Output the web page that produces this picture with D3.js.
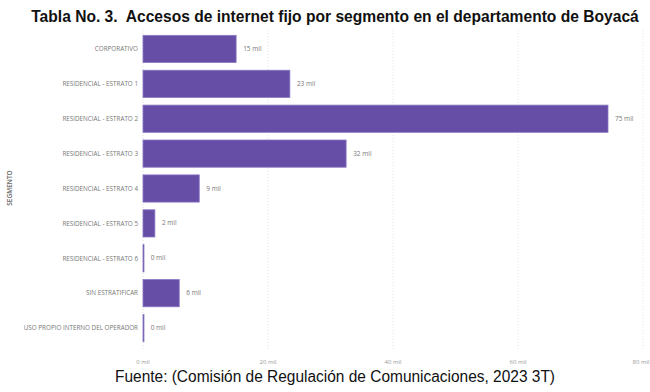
<!DOCTYPE html>
<html><head><meta charset="utf-8">
<script src="https://cdn.jsdelivr.net/npm/d3@7"></script>
<style>body{margin:0;background:#fff}svg{display:block}</style>
</head><body>
<script>
const categories = ["CORPORATIVO","RESIDENCIAL - ESTRATO 1","RESIDENCIAL - ESTRATO 2","RESIDENCIAL - ESTRATO 3","RESIDENCIAL - ESTRATO 4","RESIDENCIAL - ESTRATO 5","RESIDENCIAL - ESTRATO 6","SIN ESTRATIFICAR","USO PROPIO INTERNO DEL OPERADOR"];
const values = [14.9, 23.5, 74.4, 32.5, 9.0, 1.9, 0.1, 5.8, 0.1];
const valueLabels = ["15 mil","23 mil","75 mil","32 mil","9 mil","2 mil","0 mil","6 mil","0 mil"];
const xTicks = [0, 20, 40, 60, 80];
const titleText = "Tabla No. 3.  Accesos de internet fijo por segmento en el departamento de Boyacá";
const sourceText = "Fuente: (Comisión de Regulación de Comunicaciones, 2023 3T)";
const yAxisTitle = "SEGMENTO";

const W = 650, H = 392;
const svg = d3.select("body").append("svg").attr("width", W).attr("height", H);
const x = d3.scaleLinear().domain([0, 80]).range([143, 643]);
const y = d3.scaleBand().domain(categories).range([31.5, 345.5]).paddingInner(0.22).paddingOuter(0.11);

// gridlines
svg.append("g").selectAll("line").data(xTicks).join("line")
  .attr("x1", d => x(d)).attr("x2", d => x(d)).attr("y1", 30).attr("y2", 350)
  .attr("stroke", "#e2e2e2").attr("stroke-width", 1).attr("stroke-dasharray", "1,2");

// x tick labels
svg.append("g").selectAll("text").data(xTicks).join("text")
  .attr("x", d => Math.min(x(d), 641)).attr("y", 364).attr("text-anchor", "middle")
  .attr("font-family", "'Open Sans', 'DejaVu Sans', sans-serif").attr("font-size", 6).attr("fill", "#999")
  .text(d => d + " mil");

// bars
svg.append("g").selectAll("rect").data(values).join("rect")
  .attr("x", x(0)).attr("y", (d, i) => y(categories[i]))
  .attr("width", d => Math.max(1, x(d) - x(0))).attr("height", y.bandwidth())
  .attr("fill", "#664ea7").attr("stroke", "#8a78c2").attr("stroke-width", 0.8);

// value labels
svg.append("g").selectAll("text").data(values).join("text")
  .attr("x", d => x(d) + 7).attr("y", (d, i) => y(categories[i]) + y.bandwidth() / 2 + 2)
  .attr("font-family", "'Open Sans', 'DejaVu Sans', sans-serif").attr("font-size", 6.5).attr("fill", "#777")
  .text((d, i) => valueLabels[i]);

// category labels
svg.append("g").selectAll("text").data(categories).join("text")
  .attr("x", 138).attr("y", d => y(d) + y.bandwidth() / 2 + 2.3)
  .attr("text-anchor", "end")
  .attr("font-family", "'Open Sans', 'DejaVu Sans', sans-serif").attr("font-size", 6.3).attr("fill", "#777")
  .text(d => d);

// y axis title
svg.append("text").attr("transform", "translate(12,188) rotate(-90)")
  .attr("text-anchor", "middle").attr("font-family", "'Open Sans', sans-serif")
  .attr("font-size", 6.5).attr("font-weight", 600).attr("fill", "#666").text(yAxisTitle);

// title, horizontally condensed to mimic a narrow font
const tg = svg.append("g");
const tt = tg.append("text").attr("x", 0).attr("y", 0).attr("text-anchor", "middle")
  .attr("font-family", "'Liberation Sans', Arial, sans-serif")
  .attr("font-size", 16.5).attr("font-weight", "bold").attr("fill", "#111")
  .attr("xml:space", "preserve").style("white-space", "pre")
  .text(titleText);
const natW = tt.node().getComputedTextLength();
tg.attr("transform", `translate(335,22) scale(${Math.min(1, 608 / natW)},1)`);

// source
svg.append("text").attr("x", 335).attr("y", 382).attr("text-anchor", "middle")
  .attr("font-family", "'Liberation Sans', Arial, sans-serif")
  .attr("font-size", 16).attr("fill", "#111")
  .attr("textLength", 440).attr("lengthAdjust", "spacingAndGlyphs")
  .text(sourceText);
</script>
</body></html>
